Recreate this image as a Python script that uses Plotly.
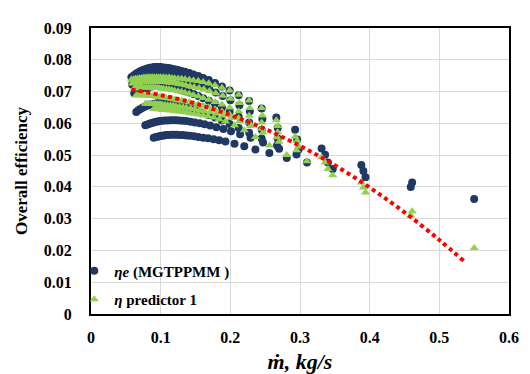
import plotly.graph_objects as go

# ---------------- data ----------------
# curve 1
c1_x = [0.058, 0.061, 0.064, 0.067, 0.070, 0.073, 0.076, 0.079, 0.082, 0.085, 0.088, 0.091, 0.094, 0.097, 0.100,
        0.104, 0.108, 0.112, 0.116, 0.120, 0.125, 0.130, 0.135, 0.141, 0.147, 0.154, 0.161, 0.169, 0.178, 0.188,
        0.199, 0.212, 0.227, 0.245, 0.266, 0.293, 0.331, 0.388, 0.461, 0.550]
c1_e = [0.0745, 0.0750, 0.0755, 0.0759, 0.0763, 0.0766, 0.0769, 0.0771, 0.0773, 0.0775, 0.0776, 0.0777, 0.0777, 0.0777, 0.0777,
        0.0776, 0.0775, 0.0774, 0.0772, 0.0770, 0.0768, 0.0765, 0.0762, 0.0758, 0.0754, 0.0749, 0.0743, 0.0736, 0.0727, 0.0716,
        0.0703, 0.0688, 0.0670, 0.0647, 0.0618, 0.0580, 0.0521, 0.0469, 0.0414, 0.0362]
c1_p = [0.0738, 0.0739, 0.0740, 0.0741, 0.0742, 0.0743, 0.0744, 0.0744, 0.0745, 0.0745, 0.0745, 0.0745, 0.0745, 0.0745, 0.0745,
        0.0745, 0.0744, 0.0744, 0.0743, 0.0742, 0.0741, 0.0740, 0.0739, 0.0737, 0.0735, 0.0733, 0.0730, 0.0726, 0.0720, 0.0712,
        0.0703, 0.0690, 0.0672, 0.0648, 0.0610, 0.0558, 0.0493, 0.0414, 0.0323, 0.0208]
# curve 2
c2_x = [0.059, 0.062, 0.065, 0.068, 0.071, 0.074, 0.077, 0.080, 0.083, 0.086, 0.089, 0.092, 0.095, 0.098, 0.101,
        0.105, 0.109, 0.113, 0.117, 0.121, 0.126, 0.131, 0.136, 0.142, 0.148, 0.155, 0.162, 0.170, 0.179, 0.189,
        0.200, 0.213, 0.228, 0.246, 0.268, 0.296, 0.336, 0.391, 0.459]
c2_e = [0.0722, 0.0727, 0.0731, 0.0735, 0.0739, 0.0742, 0.0745, 0.0747, 0.0749, 0.0751, 0.0752, 0.0753, 0.0754, 0.0754, 0.0754,
        0.0753, 0.0752, 0.0751, 0.0749, 0.0747, 0.0744, 0.0741, 0.0737, 0.0733, 0.0728, 0.0722, 0.0715, 0.0707, 0.0697, 0.0686,
        0.0673, 0.0657, 0.0638, 0.0614, 0.0585, 0.0549, 0.0501, 0.0450, 0.0400]
c2_p = [0.0725, 0.0726, 0.0727, 0.0728, 0.0729, 0.0730, 0.0730, 0.0731, 0.0731, 0.0731, 0.0731, 0.0731, 0.0731, 0.0731, 0.0730,
        0.0730, 0.0729, 0.0728, 0.0727, 0.0726, 0.0724, 0.0722, 0.0720, 0.0717, 0.0714, 0.0711, 0.0707, 0.0702, 0.0695, 0.0687,
        0.0677, 0.0664, 0.0648, 0.0625, 0.0592, 0.0545, 0.0477, 0.0398, 0.0310]
# curve 3
c3_x = [0.062, 0.065, 0.068, 0.071, 0.074, 0.077, 0.080, 0.083, 0.086, 0.089, 0.092, 0.095, 0.098, 0.101, 0.104,
        0.108, 0.112, 0.116, 0.120, 0.125, 0.130, 0.135, 0.141, 0.147, 0.154, 0.161, 0.169, 0.178, 0.188, 0.199,
        0.212, 0.227, 0.245, 0.268, 0.298, 0.340, 0.394]
c3_e = [0.0695, 0.0699, 0.0703, 0.0706, 0.0709, 0.0711, 0.0713, 0.0715, 0.0716, 0.0717, 0.0718, 0.0718, 0.0718, 0.0718, 0.0717,
        0.0716, 0.0715, 0.0713, 0.0711, 0.0708, 0.0705, 0.0701, 0.0697, 0.0692, 0.0686, 0.0679, 0.0671, 0.0661, 0.0650, 0.0637,
        0.0621, 0.0603, 0.0580, 0.0552, 0.0518, 0.0477, 0.0430]
c3_p = [0.0710, 0.0711, 0.0712, 0.0712, 0.0713, 0.0713, 0.0713, 0.0713, 0.0713, 0.0713, 0.0712, 0.0712, 0.0711, 0.0710, 0.0709,
        0.0708, 0.0707, 0.0705, 0.0703, 0.0701, 0.0699, 0.0696, 0.0693, 0.0689, 0.0685, 0.0680, 0.0674, 0.0667, 0.0659, 0.0650,
        0.0638, 0.0624, 0.0603, 0.0572, 0.0527, 0.0456, 0.0382]
# curve 4
c4_x = [0.065, 0.068, 0.071, 0.074, 0.077, 0.080, 0.083, 0.086, 0.089, 0.092, 0.095, 0.098, 0.101, 0.104, 0.108,
        0.112, 0.116, 0.120, 0.125, 0.130, 0.135, 0.141, 0.147, 0.154, 0.161, 0.169, 0.178, 0.188, 0.199, 0.212,
        0.227, 0.245, 0.267, 0.295, 0.347]
c4_e = [0.0636, 0.0641, 0.0645, 0.0649, 0.0652, 0.0655, 0.0657, 0.0659, 0.0661, 0.0662, 0.0663, 0.0664, 0.0664, 0.0664, 0.0664,
        0.0663, 0.0662, 0.0660, 0.0658, 0.0655, 0.0652, 0.0648, 0.0644, 0.0639, 0.0633, 0.0626, 0.0618, 0.0609, 0.0598, 0.0585,
        0.0570, 0.0552, 0.0530, 0.0502, 0.0456]
c4_p = [0.0688, 0.0688, 0.0688, 0.0688, 0.0688, 0.0687, 0.0687, 0.0686, 0.0686, 0.0685, 0.0684, 0.0683, 0.0682, 0.0681, 0.0680,
        0.0678, 0.0677, 0.0675, 0.0673, 0.0671, 0.0669, 0.0666, 0.0663, 0.0659, 0.0655, 0.0650, 0.0644, 0.0637, 0.0628, 0.0617,
        0.0603, 0.0583, 0.0556, 0.0515, 0.0437]
# curve 5
c5_x = [0.078, 0.081, 0.084, 0.087, 0.090, 0.093, 0.096, 0.099, 0.102, 0.106, 0.110, 0.114, 0.118, 0.122, 0.127,
        0.132, 0.137, 0.143, 0.149, 0.156, 0.163, 0.171, 0.180, 0.190, 0.201, 0.214, 0.229, 0.247, 0.270, 0.310]
c5_e = [0.0594, 0.0596, 0.0599, 0.0601, 0.0603, 0.0605, 0.0606, 0.0607, 0.0608, 0.0609, 0.0609, 0.0610, 0.0610, 0.0610, 0.0609,
        0.0608, 0.0607, 0.0605, 0.0603, 0.0600, 0.0597, 0.0593, 0.0588, 0.0582, 0.0575, 0.0566, 0.0555, 0.0540, 0.0520, 0.0477]
c5_p = [0.0662, 0.0662, 0.0662, 0.0662, 0.0661, 0.0661, 0.0660, 0.0660, 0.0659, 0.0658, 0.0657, 0.0656, 0.0655, 0.0654, 0.0652,
        0.0651, 0.0649, 0.0647, 0.0645, 0.0642, 0.0639, 0.0636, 0.0631, 0.0625, 0.0617, 0.0607, 0.0592, 0.0571, 0.0542, 0.0481]
# curve 6
c6_x = [0.090, 0.093, 0.096, 0.099, 0.102, 0.105, 0.108, 0.111, 0.115, 0.119, 0.123, 0.127, 0.132, 0.137, 0.142,
        0.148, 0.154, 0.161, 0.168, 0.176, 0.184, 0.193, 0.206, 0.220, 0.236, 0.256, 0.281]
c6_e = [0.0555, 0.0557, 0.0558, 0.0560, 0.0561, 0.0562, 0.0563, 0.0563, 0.0564, 0.0564, 0.0564, 0.0563, 0.0563, 0.0562, 0.0561,
        0.0559, 0.0557, 0.0555, 0.0553, 0.0550, 0.0547, 0.0543, 0.0536, 0.0528, 0.0518, 0.0507, 0.0491]
c6_p = [0.0645, 0.0645, 0.0644, 0.0644, 0.0643, 0.0643, 0.0642, 0.0641, 0.0640, 0.0639, 0.0638, 0.0637, 0.0636, 0.0634, 0.0632,
        0.0630, 0.0628, 0.0625, 0.0622, 0.0618, 0.0613, 0.0606, 0.0594, 0.0578, 0.0557, 0.0530, 0.0500]

# polynomial trendline read at a few points
trend_x = [0.058, 0.100, 0.150, 0.200, 0.250, 0.300, 0.350, 0.400, 0.450, 0.500, 0.535]
trend_y = [0.0706, 0.0689, 0.0662, 0.0626, 0.0582, 0.0529, 0.0468, 0.0398, 0.0320, 0.0233, 0.0167]

x_ticks = [0, 0.1, 0.2, 0.3, 0.4, 0.5, 0.6]
x_tick_text = ["0", "0.1", "0.2", "0.3", "0.4", "0.5", "0.6"]
y_ticks = [0, 0.01, 0.02, 0.03, 0.04, 0.05, 0.06, 0.07, 0.08, 0.09]
y_tick_text = ["0", "0.01", "0.02", "0.03", "0.04", "0.05", "0.06", "0.07", "0.08", "0.09"]

# ---------------- assemble ----------------
curves_x = [c1_x, c2_x, c3_x, c4_x, c5_x, c6_x]
curves_e = [c1_e, c2_e, c3_e, c4_e, c5_e, c6_e]
curves_p = [c1_p, c2_p, c3_p, c4_p, c5_p, c6_p]
all_x, all_e, all_p = [], [], []
for cx, ce, cp in zip(curves_x, curves_e, curves_p):
    all_x += cx
    all_e += ce
    all_p += cp

NAVY = "#203864"
GREEN = "#92D050"
SERIF = "Liberation Serif"

fig = go.Figure()
fig.add_trace(go.Scatter(
    x=all_x, y=all_e, mode="markers", name="<b><i>ηe</i> (MGTPPMM )</b>",
    marker=dict(symbol="circle", size=8, color=NAVY), legendgroup="a"))
fig.add_trace(go.Scatter(
    x=all_x, y=all_p, mode="markers", name="<b><i>η</i> predictor 1</b>",
    marker=dict(symbol="triangle-up", size=8, color=GREEN), legendgroup="b"))
fig.add_trace(go.Scatter(
    x=trend_x, y=trend_y, mode="lines", showlegend=False,
    line=dict(color="#FF0000", width=4, dash="4px,3.5px", shape="spline")))

fig.update_layout(
    width=530, height=374,
    margin=dict(l=79, r=29, t=12, b=58),
    paper_bgcolor="white", plot_bgcolor="white",
    font=dict(family=SERIF, color="black"),
    showlegend=True,
    legend=dict(x=-0.04, y=-0.005, xanchor="left", yanchor="bottom",
                bgcolor="rgba(0,0,0,0)", font=dict(size=15, family=SERIF, color="black"),
                traceorder="grouped", tracegroupgap=6, itemwidth=30),
    xaxis=dict(range=[0, 0.6], tickvals=x_ticks, ticktext=x_tick_text,
               showgrid=True, gridcolor="#D9D9D9", gridwidth=1, zeroline=False,
               showline=True, linecolor="black", linewidth=2, mirror=True,
               ticks="", ticklabelstandoff=8,
               tickfont=dict(size=16, family=SERIF, color="black", weight="bold"),
               title=dict(text="<b><i>ṁ, kg/s</i></b>", standoff=8,
                          font=dict(size=22, family=SERIF, color="black"))),
    yaxis=dict(range=[0, 0.09], tickvals=y_ticks, ticktext=y_tick_text,
               showgrid=True, gridcolor="#D9D9D9", gridwidth=1, zeroline=False,
               showline=True, linecolor="black", linewidth=2, mirror=True,
               ticks="", ticklabelstandoff=14,
               tickfont=dict(size=16, family=SERIF, color="black", weight="bold"),
               title=dict(text="<b>Overall efficiency</b>", standoff=12,
                          font=dict(size=17, family=SERIF, color="black"))),
)

fig.write_html("out.html")
